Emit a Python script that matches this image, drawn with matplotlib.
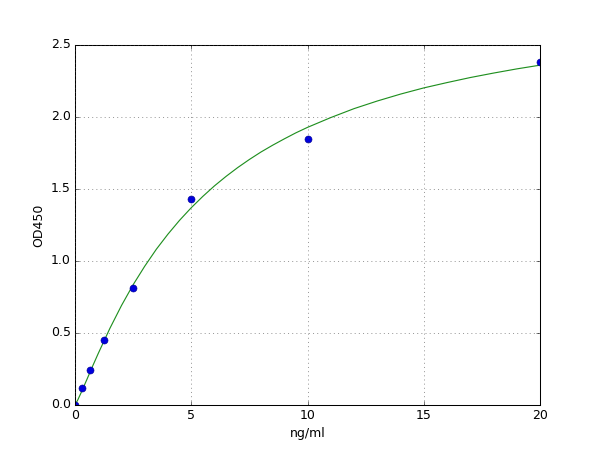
import numpy as np
import matplotlib
matplotlib.use('Agg')
import matplotlib.pyplot as plt

# standard points
conc = [0, 0.3125, 0.625, 1.25, 2.5, 5, 10, 20]
od = [0.0, 0.12, 0.24, 0.45, 0.81, 1.43, 1.85, 2.38]

# fitted curve
fit_x = [0, 0.125, 0.25, 0.5, 0.75, 1.0, 1.5, 2.0, 2.5, 3.0, 3.5, 4.0, 4.5,
         5.0, 5.5, 6.0, 6.5, 7.0, 7.5, 8.0, 8.5, 9.0, 9.5, 10.0, 11.0, 12.0,
         13.0, 14.0, 15.0, 16.0, 17.0, 18.0, 19.0, 20.0]
fit_y = [0.0, 0.037, 0.081, 0.173, 0.267, 0.358, 0.532, 0.691, 0.835, 0.964,
         1.082, 1.187, 1.283, 1.370, 1.449, 1.522, 1.588, 1.649, 1.705, 1.757,
         1.804, 1.848, 1.890, 1.928, 1.996, 2.058, 2.111, 2.159, 2.202, 2.239,
         2.274, 2.305, 2.334, 2.360]

plt.style.use('classic')
# drawn at 800x600 and saved at 75 dpi -> 600x450
fig = plt.figure(figsize=(8, 6), facecolor='white')
ax = fig.add_subplot(111)
ax.plot(fit_x, fit_y, '-', color='#1f8f1f', linewidth=1.1)
ax.plot(conc, od, 'o', color='#0000dd', markeredgecolor='#00008b', markersize=6.8)
ax.set_xlim(0, 20)
ax.set_ylim(0, 2.5)
ax.set_xticks([0, 5, 10, 15, 20])
ax.set_yticks([0.0, 0.5, 1.0, 1.5, 2.0, 2.5])
ax.grid(True, color='#444444')
ax.set_xlabel('ng/ml')
ax.set_ylabel('OD450')

fig.savefig('out.png', dpi=75, facecolor='white')
